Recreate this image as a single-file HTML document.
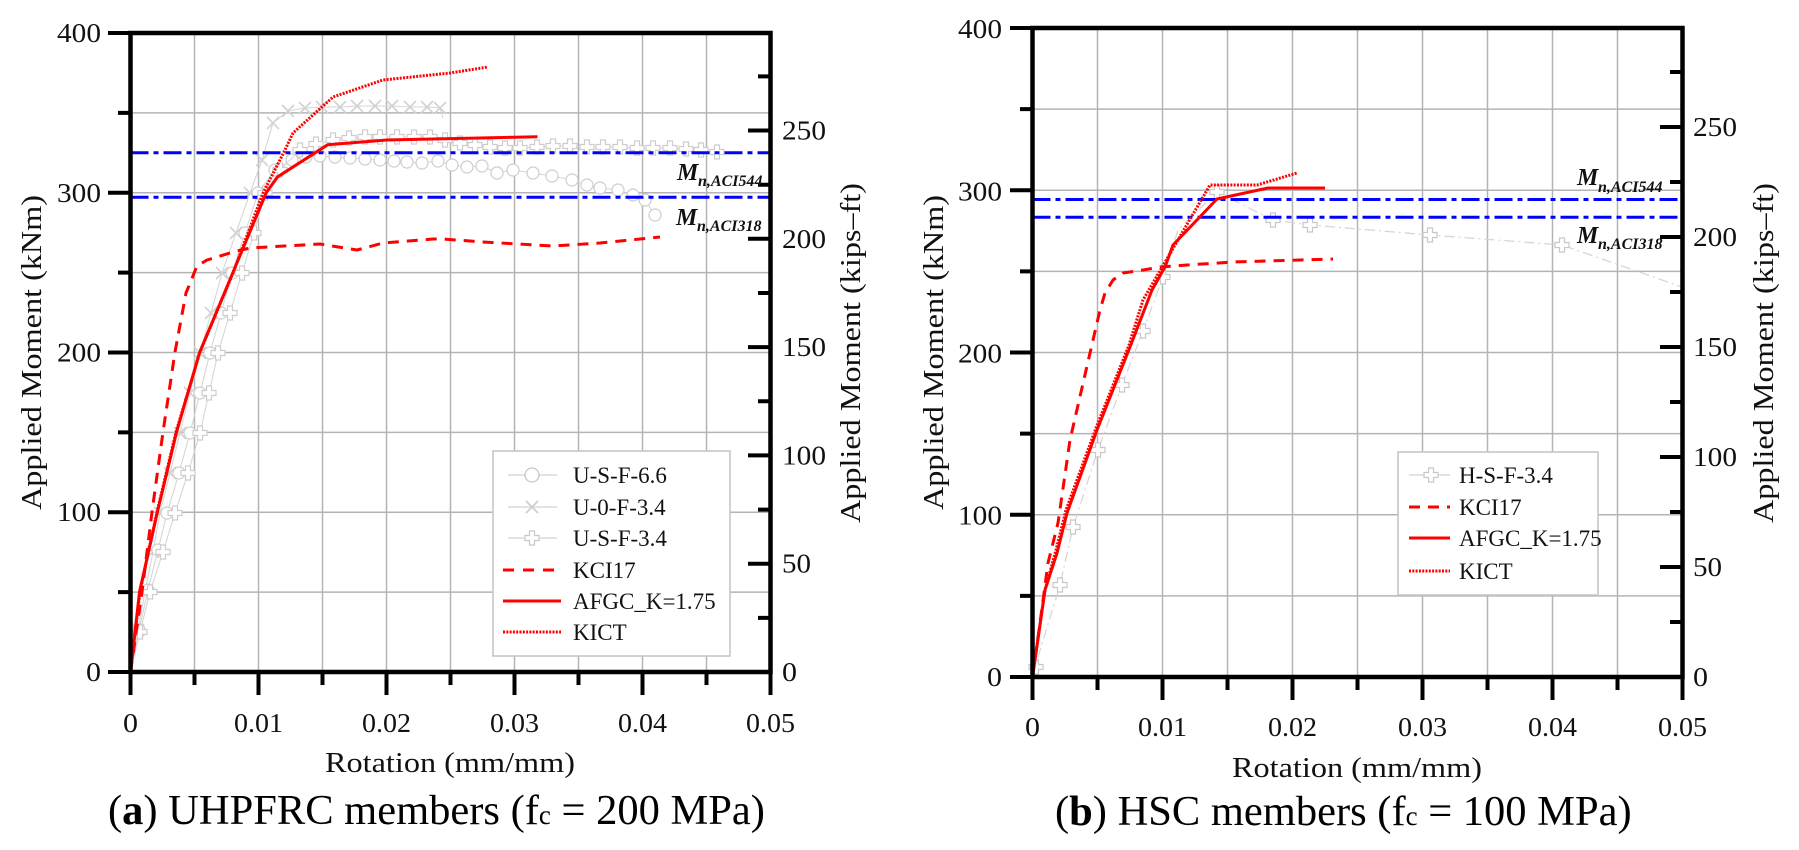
<!DOCTYPE html>
<html><head><meta charset="utf-8"><style>
html,body{margin:0;padding:0;background:#fff;overflow:hidden;}
svg{display:block;font-family:"Liberation Serif",serif;}
</style></head><body>
<svg width="1799" height="850" viewBox="0 0 1799 850" xmlns="http://www.w3.org/2000/svg">
<defs>
<marker id="mc" markerUnits="userSpaceOnUse" markerWidth="20" markerHeight="20" refX="10" refY="10" overflow="visible"><circle cx="10" cy="10" r="6" fill="#fff" stroke="#cdcdcd" stroke-width="1.2"/></marker>
<marker id="mx" markerUnits="userSpaceOnUse" markerWidth="20" markerHeight="20" refX="10" refY="10" overflow="visible"><path d="M4,4 L16,16 M4,16 L16,4" stroke="#d2d2d2" stroke-width="1.6" fill="none"/></marker>
<marker id="mp" markerUnits="userSpaceOnUse" markerWidth="20" markerHeight="20" refX="10" refY="10" overflow="visible"><path d="M7.5,3 H12.5 V7.5 H17 V12.5 H12.5 V17 H7.5 V12.5 H3 V7.5 H7.5 Z" fill="#fff" stroke="#cdcdcd" stroke-width="1.2"/></marker>
<g id="plus"><path d="M-2.5,-7 H2.5 V-2.5 H7 V2.5 H2.5 V7 H-2.5 V2.5 H-7 V-2.5 H-2.5 Z" fill="#fff" stroke="#c8c8c8" stroke-width="1.2"/></g>
</defs>

<!-- ================= LEFT CHART ================= -->
<g stroke="#b4b4b4" stroke-width="1.5">
<path d="M194.5,33V672M258.5,33V672M322.5,33V672M386.5,33V672M450.5,33V672M514.5,33V672M578.5,33V672M642.5,33V672M706.5,33V672"/>
<path d="M130.5,592.1H770.5M130.5,512.25H770.5M130.5,432.4H770.5M130.5,352.5H770.5M130.5,272.6H770.5M130.5,192.75H770.5M130.5,112.9H770.5"/>
</g>

<!-- gray experimental -->
<g fill="none" stroke="#d6d6d6" stroke-width="1.1">
<polyline marker-mid="url(#mx)" points="130.5,672 138,630 145,592 153,552 160,513 170,473 180,433 190,393 200,353 211,313 222,273 236,233 250,193 262,160 273,123 288,111 305,108 322,107 340,107 357,106 375,106 392,106 410,107 427,107 440,108 443,118"/>
<polyline marker-mid="url(#mc)" points="130.5,672 139,630 148,590 158,550 167,513 179,473 190,433 200,393 210,353 221,313 232,273 245,233 258,193 275,170 292,160 306,157 320,156 335,157 350,158 365,159 380,160 394,161 407,162 422,163 438,161 452,165 467,167 482,166 497,173 513,170 533,173 552,176 572,180 587,185 600,188 618,190 633,195 645,200 655,215 656,216"/>
<polyline marker-mid="url(#mp)" points="130.5,672 140,632 150,592 163,552 175,513 188,473 200,433 209,393 218,353 230,313 242,273 254,233 265,193 280,170 300,150 316,144 333,140 349,138 365,137 380,137 397,137 414,137 430,137 445,140 460,143 475,145 490,147 505,148 520,148 537,147 553,146 570,146 587,147 603,147 620,147 637,148 653,148 670,148 686,149 701,150 717,152 718,152"/>
</g>

<!-- blue -->
<g stroke="#0000ff" stroke-width="3" stroke-dasharray="18 5 5 5">
<line x1="130.5" y1="152.7" x2="770.5" y2="152.7"/>
<line x1="130.5" y1="197.3" x2="770.5" y2="197.3"/>
</g>

<!-- red -->
<g fill="none" stroke="#ff0000" stroke-width="3" stroke-linejoin="round">
<polyline stroke-dasharray="11 8" points="130.5,672 142,592 152,512 163,432 175,352 186,293 197,266 207,260 233,252 250,248 320,244 357,250 383,243 433,239 443,239 483,242 553,246 600,243 660,237"/>
<polyline points="130.5,672 139.5,592 157.4,512 176.6,432 199.6,352.5 232.9,272.6 266.2,192.8 277.7,176.8 327.6,144.8 386.5,140 537.5,136.8"/>
<polyline stroke-dasharray="2 1.3" points="130.5,672 140,592 157,512 176,432 200,352 233,273 263,193 285,150 293,133 333,97 383,80 450,73 488,67"/>
</g>

<!-- axes -->
<path d="M130.5,672H770.5V33H130.5Z" fill="none" stroke="#000" stroke-width="4.5"/>
<g stroke="#000" stroke-width="4">
<path d="M108,672H130.5M108,512.25H130.5M108,352.5H130.5M108,192.75H130.5M108,33H130.5"/>
<path d="M118,592.1H130.5M118,432.4H130.5M118,272.6H130.5M118,112.9H130.5"/>
<path d="M130.5,672V695M258.5,672V695M386.5,672V695M514.5,672V695M642.5,672V695M770.5,672V695"/>
<path d="M194.5,672V685M322.5,672V685M450.5,672V685M578.5,672V685M706.5,672V685"/>
<path d="M748,672H770.5M748,563.7H770.5M748,455.4H770.5M748,347.1H770.5M748,238.8H770.5M748,130.5H770.5"/>
<path d="M758,617.9H770.5M758,509.6H770.5M758,401.3H770.5M758,293H770.5M758,184.7H770.5M758,76.4H770.5"/>
</g>

<!-- legend left -->
<rect x="493" y="451" width="237" height="205" fill="#fff" stroke="#c4c4c4" stroke-width="1.5"/>
<g stroke="#d2d2d2" stroke-width="1.2">
<line x1="508" y1="475" x2="557" y2="475"/>
<line x1="508" y1="507" x2="557" y2="507"/>
<line x1="508" y1="538" x2="557" y2="538"/>
</g>
<circle cx="532" cy="475" r="7" fill="#fff" stroke="#c8c8c8" stroke-width="1.3"/>
<path d="M526,501 L538,513 M526,513 L538,501" stroke="#cfcfcf" stroke-width="1.8"/>
<use href="#plus" x="532" y="538"/>
<g stroke="#ff0000" stroke-width="3">
<line x1="503" y1="570" x2="561" y2="570" stroke-dasharray="11 9"/>
<line x1="503" y1="601" x2="561" y2="601"/>
<line x1="503" y1="632" x2="561" y2="632" stroke-dasharray="2 1.3"/>
</g>
<g font-size="23" fill="#111">
<text x="573" y="483">U-S-F-6.6</text>
<text x="573" y="515">U-0-F-3.4</text>
<text x="573" y="546">U-S-F-3.4</text>
<text x="573" y="578">KCI17</text>
<text x="573" y="609">AFGC_K=1.75</text>
<text x="573" y="640">KICT</text>
</g>

<!-- labels left -->
<g font-size="27" fill="#111" text-anchor="end" lengthAdjust="spacingAndGlyphs">
<text x="101" y="681" textLength="15" lengthAdjust="spacingAndGlyphs">0</text>
<text x="101" y="521" textLength="44" lengthAdjust="spacingAndGlyphs">100</text>
<text x="101" y="361.5" textLength="44" lengthAdjust="spacingAndGlyphs">200</text>
<text x="101" y="202" textLength="44" lengthAdjust="spacingAndGlyphs">300</text>
<text x="101" y="42" textLength="44" lengthAdjust="spacingAndGlyphs">400</text>
</g>
<g font-size="27" fill="#111">
<text x="782" y="681" textLength="15" lengthAdjust="spacingAndGlyphs">0</text>
<text x="782" y="572.7" textLength="29" lengthAdjust="spacingAndGlyphs">50</text>
<text x="782" y="464.4" textLength="44" lengthAdjust="spacingAndGlyphs">100</text>
<text x="782" y="356.1" textLength="44" lengthAdjust="spacingAndGlyphs">150</text>
<text x="782" y="247.8" textLength="44" lengthAdjust="spacingAndGlyphs">200</text>
<text x="782" y="139.5" textLength="44" lengthAdjust="spacingAndGlyphs">250</text>
</g>
<g font-size="27" fill="#111" text-anchor="middle">
<text x="130.5" y="732" textLength="15" lengthAdjust="spacingAndGlyphs">0</text>
<text x="258.5" y="732" textLength="49" lengthAdjust="spacingAndGlyphs">0.01</text>
<text x="386.5" y="732" textLength="49" lengthAdjust="spacingAndGlyphs">0.02</text>
<text x="514.5" y="732" textLength="49" lengthAdjust="spacingAndGlyphs">0.03</text>
<text x="642.5" y="732" textLength="49" lengthAdjust="spacingAndGlyphs">0.04</text>
<text x="770.5" y="732" textLength="49" lengthAdjust="spacingAndGlyphs">0.05</text>
</g>
<text x="325" y="772" font-size="28" fill="#111" textLength="250" lengthAdjust="spacingAndGlyphs">Rotation (mm/mm)</text>
<text transform="translate(41,510) rotate(-90)" font-size="28" fill="#111" textLength="315" lengthAdjust="spacingAndGlyphs">Applied Moment (kNm)</text>
<text transform="translate(860,523) rotate(-90)" font-size="28" fill="#111" textLength="340" lengthAdjust="spacingAndGlyphs">Applied Moment (kips–ft)</text>
<g font-weight="bold" font-style="italic" fill="#111">
<text x="677" y="180" font-size="24">M</text><text x="698" y="186" font-size="16">n,ACI544</text>
<text x="676" y="225" font-size="24">M</text><text x="697" y="231" font-size="16">n,ACI318</text>
</g>
<text x="108" y="824" font-size="42.5" fill="#000">(<tspan font-weight="bold">a</tspan>) UHPFRC members (f<tspan font-size="27">c</tspan> = 200 MPa)</text>

<!-- ================= RIGHT CHART ================= -->
<g stroke="#b4b4b4" stroke-width="1.5">
<path d="M1097.5,28V677M1162.5,28V677M1227.5,28V677M1292.5,28V677M1357.5,28V677M1422.5,28V677M1487.5,28V677M1552.5,28V677M1617.5,28V677"/>
<path d="M1032.5,595.9H1682.5M1032.5,514.75H1682.5M1032.5,433.6H1682.5M1032.5,352.5H1682.5M1032.5,271.4H1682.5M1032.5,190.25H1682.5M1032.5,109.1H1682.5"/>
</g>

<polyline fill="none" stroke="#d4d4d4" stroke-width="1.2" stroke-dasharray="10 4 2 4" points="1032.5,677 1035,667 1060,585 1073,527 1098,450 1122,385 1143,331 1163,277 1178,230 1217,192 1273,220 1310,225 1430,235 1562,245 1682,287"/>
<use href="#plus" x="1036" y="667"/>
<use href="#plus" x="1060" y="585"/>
<use href="#plus" x="1073" y="527"/>
<use href="#plus" x="1098" y="450"/>
<use href="#plus" x="1122" y="385"/>
<use href="#plus" x="1143" y="331"/>
<use href="#plus" x="1163" y="277"/>
<use href="#plus" x="1217" y="192"/>
<use href="#plus" x="1273" y="220"/>
<use href="#plus" x="1310" y="225"/>
<use href="#plus" x="1430" y="235"/>
<use href="#plus" x="1562" y="245"/>

<g stroke="#0000ff" stroke-width="3" stroke-dasharray="18 5 5 5">
<line x1="1032.5" y1="199.5" x2="1682.5" y2="199.5"/>
<line x1="1032.5" y1="217.3" x2="1682.5" y2="217.3"/>
</g>

<g fill="none" stroke="#ff0000" stroke-width="3" stroke-linejoin="round">
<polyline stroke-dasharray="11 8" points="1032.5,677 1040,623 1048,563 1058,523 1070,440 1090,353 1100,310 1105,293 1113,280 1123,273 1143,270 1160,267 1187,265 1233,262 1333,259"/>
<polyline points="1032.5,677 1045,590 1057,553 1067,513 1097,430 1130,347 1152,290 1165,267 1173,245 1217,199 1268,188 1325,188"/>
<polyline stroke-dasharray="2 1.3" points="1032.5,677 1045,590 1056,550 1066,510 1096,428 1129,345 1143,300 1210,185 1257,185 1297,173"/>
</g>

<path d="M1032.5,677H1682.5V28H1032.5Z" fill="none" stroke="#000" stroke-width="4.5"/>
<g stroke="#000" stroke-width="4">
<path d="M1010,677H1032.5M1010,514.75H1032.5M1010,352.5H1032.5M1010,190.25H1032.5M1010,28H1032.5"/>
<path d="M1020,595.9H1032.5M1020,433.6H1032.5M1020,271.4H1032.5M1020,109.1H1032.5"/>
<path d="M1032.5,677V700M1162.5,677V700M1292.5,677V700M1422.5,677V700M1552.5,677V700M1682.5,677V700"/>
<path d="M1097.5,677V690M1227.5,677V690M1357.5,677V690M1487.5,677V690M1617.5,677V690"/>
<path d="M1660,677H1682.5M1660,567H1682.5M1660,457H1682.5M1660,347H1682.5M1660,237H1682.5M1660,127H1682.5"/>
<path d="M1670,622H1682.5M1670,512H1682.5M1670,402H1682.5M1670,292H1682.5M1670,182H1682.5M1670,72H1682.5"/>
</g>

<!-- legend right -->
<rect x="1398" y="452" width="200" height="143" fill="#fff" stroke="#c4c4c4" stroke-width="1.5"/>
<line x1="1409" y1="475" x2="1450" y2="475" stroke="#d2d2d2" stroke-width="1.2"/>
<use href="#plus" x="1431" y="475"/>
<g stroke="#ff0000" stroke-width="3">
<line x1="1409" y1="507" x2="1450" y2="507" stroke-dasharray="11 8"/>
<line x1="1409" y1="538" x2="1450" y2="538"/>
<line x1="1409" y1="571" x2="1450" y2="571" stroke-dasharray="2 1.3"/>
</g>
<g font-size="23" fill="#111">
<text x="1459" y="483">H-S-F-3.4</text>
<text x="1459" y="515">KCI17</text>
<text x="1459" y="546">AFGC_K=1.75</text>
<text x="1459" y="579">KICT</text>
</g>

<g font-size="27" fill="#111" text-anchor="end">
<text x="1002" y="686" textLength="15" lengthAdjust="spacingAndGlyphs">0</text>
<text x="1002" y="524.7" textLength="44" lengthAdjust="spacingAndGlyphs">100</text>
<text x="1002" y="362.5" textLength="44" lengthAdjust="spacingAndGlyphs">200</text>
<text x="1002" y="200.3" textLength="44" lengthAdjust="spacingAndGlyphs">300</text>
<text x="1002" y="38" textLength="44" lengthAdjust="spacingAndGlyphs">400</text>
</g>
<g font-size="27" fill="#111">
<text x="1693" y="686" textLength="15" lengthAdjust="spacingAndGlyphs">0</text>
<text x="1693" y="576" textLength="29" lengthAdjust="spacingAndGlyphs">50</text>
<text x="1693" y="466" textLength="44" lengthAdjust="spacingAndGlyphs">100</text>
<text x="1693" y="356" textLength="44" lengthAdjust="spacingAndGlyphs">150</text>
<text x="1693" y="246" textLength="44" lengthAdjust="spacingAndGlyphs">200</text>
<text x="1693" y="136" textLength="44" lengthAdjust="spacingAndGlyphs">250</text>
</g>
<g font-size="27" fill="#111" text-anchor="middle">
<text x="1032.5" y="736" textLength="15" lengthAdjust="spacingAndGlyphs">0</text>
<text x="1162.5" y="736" textLength="49" lengthAdjust="spacingAndGlyphs">0.01</text>
<text x="1292.5" y="736" textLength="49" lengthAdjust="spacingAndGlyphs">0.02</text>
<text x="1422.5" y="736" textLength="49" lengthAdjust="spacingAndGlyphs">0.03</text>
<text x="1552.5" y="736" textLength="49" lengthAdjust="spacingAndGlyphs">0.04</text>
<text x="1682.5" y="736" textLength="49" lengthAdjust="spacingAndGlyphs">0.05</text>
</g>
<text x="1232" y="777" font-size="28" fill="#111" textLength="250" lengthAdjust="spacingAndGlyphs">Rotation (mm/mm)</text>
<text transform="translate(943,510) rotate(-90)" font-size="28" fill="#111" textLength="315" lengthAdjust="spacingAndGlyphs">Applied Moment (kNm)</text>
<text transform="translate(1773,523) rotate(-90)" font-size="28" fill="#111" textLength="340" lengthAdjust="spacingAndGlyphs">Applied Moment (kips–ft)</text>
<g font-weight="bold" font-style="italic" fill="#111">
<text x="1577" y="185" font-size="24">M</text><text x="1598" y="192" font-size="16">n,ACI544</text>
<text x="1577" y="243" font-size="24">M</text><text x="1598" y="249" font-size="16">n,ACI318</text>
</g>
<text x="1055" y="825" font-size="42.5" fill="#000">(<tspan font-weight="bold">b</tspan>) HSC members (f<tspan font-size="27">c</tspan> = 100 MPa)</text>
</svg>
</body></html>
